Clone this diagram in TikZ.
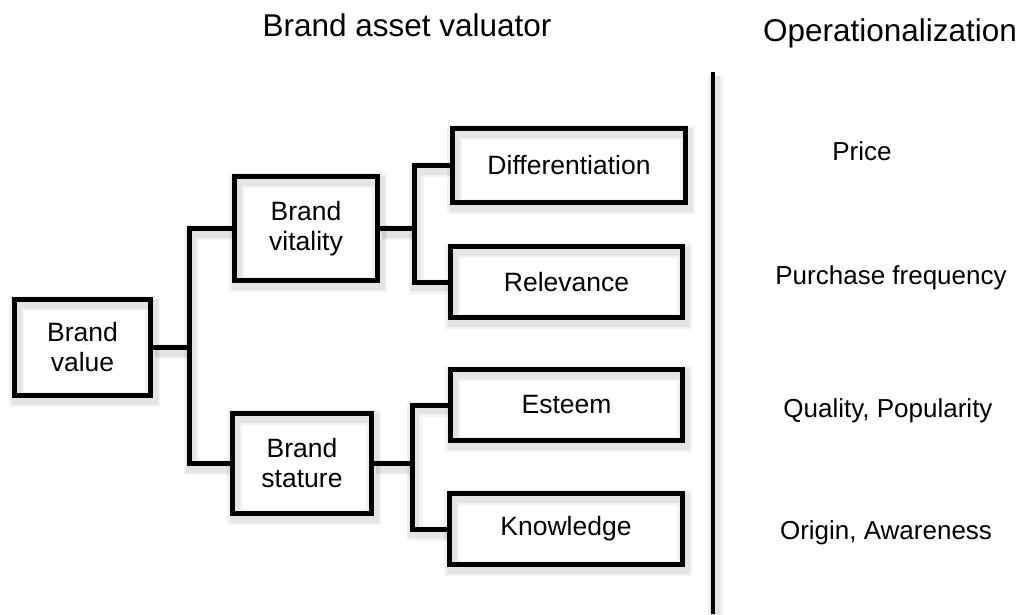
\documentclass[tikz,border=0pt]{standalone}
\usepackage{fontspec}
\setmainfont{Liberation Sans}
\begin{document}
\begin{tikzpicture}[x=1pt,y=-1pt,
  softshadow/.style={preaction={draw=black,draw opacity=0.05,line width=15pt,transform canvas={shift={(2pt,-4pt)}}},
                     preaction={draw=black,draw opacity=0.06,line width=10pt,transform canvas={shift={(2pt,-4pt)}}}},
  box/.style={softshadow,draw,line width=5pt,align=center,inner sep=0pt,font=\fontsize{26.5}{30}\selectfont},
  conn/.style={softshadow,line width=5pt},
  title/.style={anchor=base,font=\fontsize{31.5}{36}\selectfont},
  oplabel/.style={anchor=base,font=\fontsize{26}{30}\selectfont}]
\useasboundingbox (0,0) rectangle (1023,614);
\node[box,minimum width=136pt,minimum height=96pt] (bv) at (82.5,347.5) {Brand\\value};
\node[box,minimum width=143pt,minimum height=104pt] (vit) at (306,228.5) {Brand\\vitality};
\node[box,minimum width=139pt,minimum height=100pt] (sta) at (302,463.5) {Brand\\stature};
\node[box,minimum width=233pt,minimum height=74pt] (dif) at (569,165.5) {Differentiation};
\node[box,minimum width=232pt,minimum height=71pt] (rel) at (566.5,282) {Relevance};
\node[box,minimum width=232pt,minimum height=71pt] (est) at (566.5,405) {Esteem};
\node[box,minimum width=233pt,minimum height=71pt] (kno) at (566,529) {Knowledge};
\coordinate (j1) at (189,0);
\coordinate (j2) at (414,0);
\coordinate (j3) at (412,0);
\draw[conn] (bv.east) -- (j1|-bv.east);
\draw[conn,line join=miter] (vit.west) -- (j1|-vit.west) -- (j1|-sta.west) -- (sta.west);
\draw[conn] (vit.east) -- (j2|-vit.east);
\draw[conn,line join=miter] (dif.west) -- (j2|-dif.west) -- (j2|-rel.west) -- (rel.west);
\draw[conn] (sta.east) -- (j3|-sta.east);
\draw[conn,line join=miter] (est.west) -- (j3|-est.west) -- (j3|-kno.west) -- (kno.west);
\coordinate (dtop) at (713,72);
\coordinate (dbot) at (713,614);
\draw[softshadow,line width=4pt] (dtop) -- (dbot);
\node[title] (t1) at (407,36) {Brand asset valuator};
\node[title] (t2) at (890,41) {Operationalization};
\node[oplabel] (o1) at (862,160) {Price};
\node[oplabel] (o2) at (891,284) {Purchase frequency};
\node[oplabel] (o3) at (888,417) {Quality, Popularity};
\node[oplabel] (o4) at (886,539) {Origin, Awareness};
\end{tikzpicture}
\end{document}
